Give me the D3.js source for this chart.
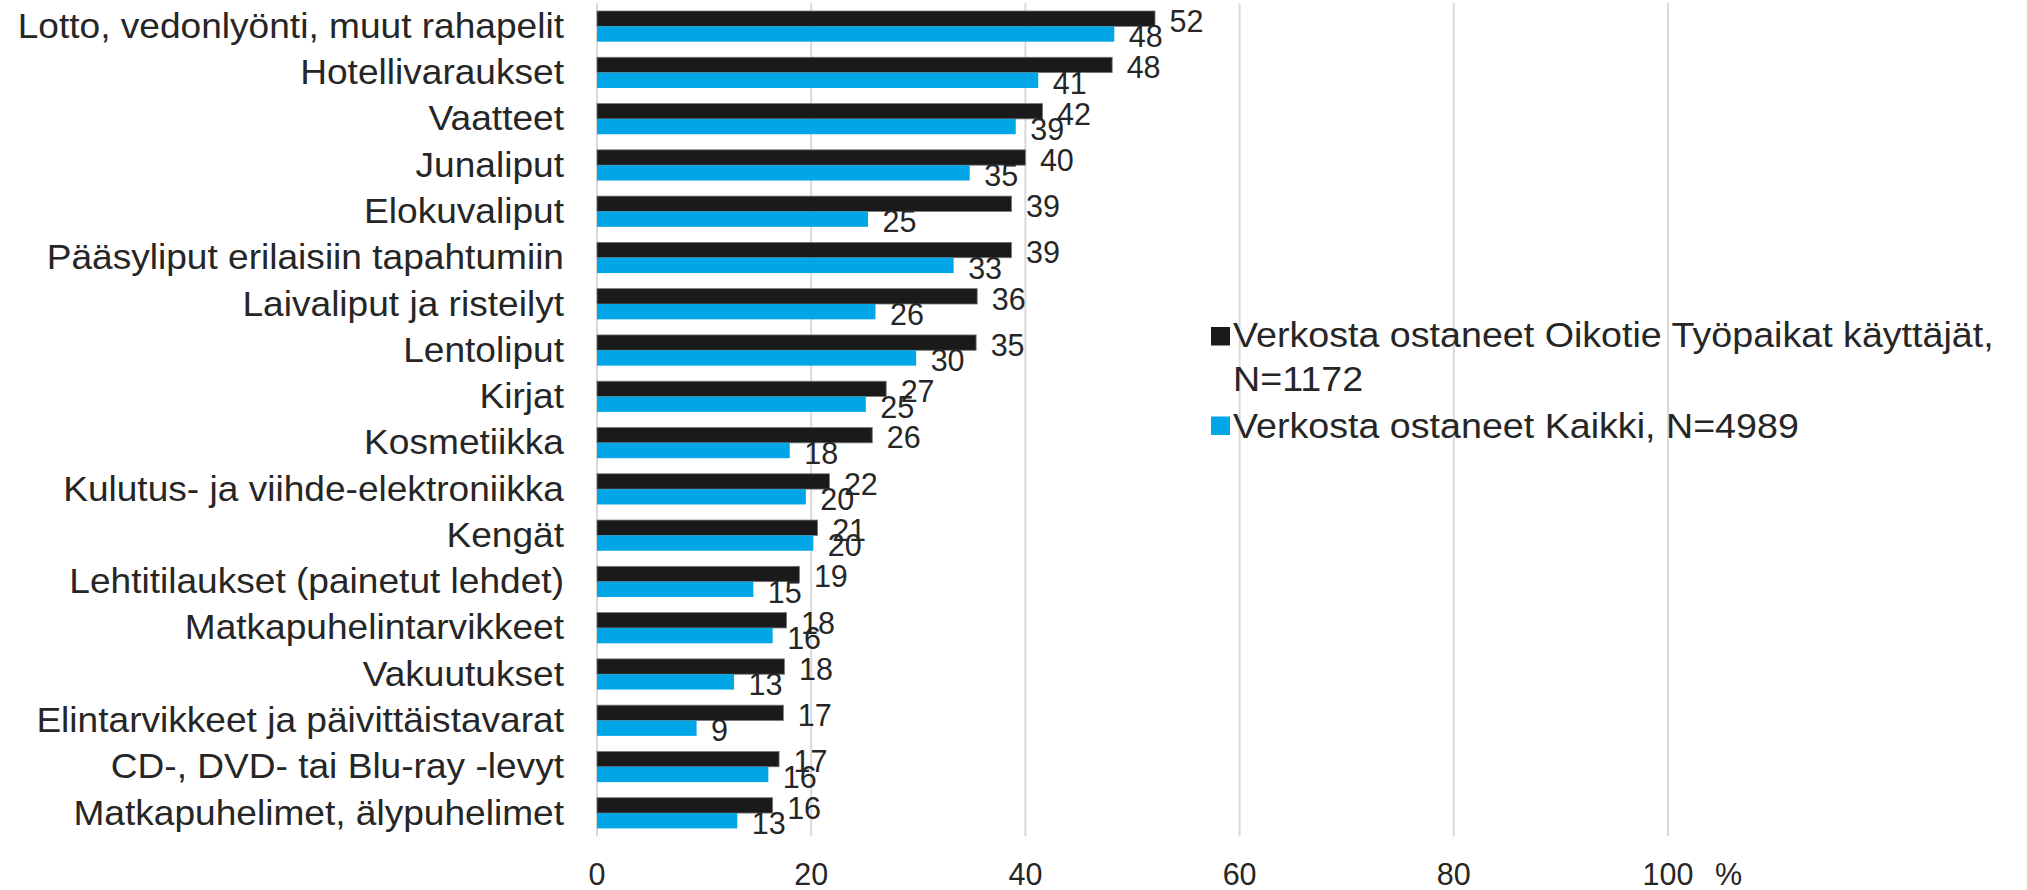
<!DOCTYPE html>
<html>
<head>
<meta charset="utf-8">
<script src="https://cdn.jsdelivr.net/npm/d3@7.9.0/dist/d3.min.js"></script>
<style>
  body { margin: 0; background: #fff; }
  svg { display: block; font-family: "Liberation Sans", Arial, sans-serif; }
</style>
</head>
<body>
<div id="chart"></div>
<script>
// categories top to bottom
const categories = [
  'Lotto, vedonlyönti, muut rahapelit',
  'Hotellivaraukset',
  'Vaatteet',
  'Junaliput',
  'Elokuvaliput',
  'Pääsyliput erilaisiin tapahtumiin',
  'Laivaliput ja risteilyt',
  'Lentoliput',
  'Kirjat',
  'Kosmetiikka',
  'Kulutus- ja viihde-elektroniikka',
  'Kengät',
  'Lehtitilaukset (painetut lehdet)',
  'Matkapuhelintarvikkeet',
  'Vakuutukset',
  'Elintarvikkeet ja päivittäistavarat',
  'CD-, DVD- tai Blu-ray -levyt',
  'Matkapuhelimet, älypuhelimet'
];

// % values
const oikotie = [52.1, 48.1, 41.6, 40.0, 38.7, 38.7, 35.5, 35.4, 27.0, 25.7, 21.7, 20.6, 18.9, 17.7, 17.5, 17.4, 17.0, 16.4];
const kaikki  = [48.3, 41.2, 39.1, 34.8, 25.3, 33.3, 26.0, 29.8, 25.1, 18.0, 19.5, 20.2, 14.6, 16.4, 12.8, 9.3, 16.0, 13.1];

const seriesNames = [
  ['Verkosta ostaneet Oikotie Työpaikat käyttäjät,', 'N=1172'],
  ['Verkosta ostaneet Kaikki, N=4989']
];
const xTicks = [0, 20, 40, 60, 80, 100];

const colors = ['#1a1a1a', '#00a6e6'];
const textColor = '#262626';
const stretch = 1.06; // reference text is a bit wider than Liberation Sans

const width = 2027;
const height = 890;

const svg = d3.select('#chart')
  .append('svg')
  .attr('width', width)
  .attr('height', height);

const xScale = d3.scaleLinear().domain([0, 100]).range([597, 1668]);

const yScale = d3.scaleBand()
  .domain(categories)
  .range([3.2, 836.2])
  .paddingInner(0.337)
  .paddingOuter(0.1685);

const sub = d3.scaleBand()
  .domain([0, 1])
  .range([0, yScale.bandwidth()]);

// gridlines (incl. zero line)
svg.append('g')
  .selectAll('line')
  .data(xTicks)
  .join('line')
    .attr('x1', d => xScale(d))
    .attr('x2', d => xScale(d))
    .attr('y1', 3.2)
    .attr('y2', 836.2)
    .attr('stroke', '#d9d9d9')
    .attr('stroke-width', 2);

// axis labels
svg.append('g')
  .selectAll('text')
  .data(xTicks)
  .join('text')
    .attr('x', d => xScale(d))
    .attr('y', 885)
    .attr('text-anchor', 'middle')
    .attr('font-size', 30.5)
    .attr('fill', textColor)
    .text(d => d);

svg.append('text')
  .attr('x', xScale(100) + 47)
  .attr('y', 885)
  .attr('font-size', 30.5)
  .attr('fill', textColor)
  .text('%');

// category labels
svg.append('g')
  .selectAll('text')
  .data(categories)
  .join('text')
    .attr('transform', d => `translate(564, ${yScale(d) + yScale.bandwidth() / 2 + 11.5}) scale(${stretch}, 1)`)
    .attr('text-anchor', 'end')
    .attr('font-size', 35)
    .attr('fill', textColor)
    .text(d => d);

const rows = categories.map((c, i) => ({ cat: c, vals: [oikotie[i], kaikki[i]] }));

const groups = svg.append('g')
  .selectAll('g')
  .data(rows)
  .join('g')
    .attr('transform', d => `translate(0, ${yScale(d.cat)})`);

groups.selectAll('rect')
  .data(d => d.vals.map((v, s) => ({ v, s })))
  .join('rect')
    .attr('x', xScale(0))
    .attr('y', d => sub(d.s))
    .attr('width', d => xScale(d.v) - xScale(0))
    .attr('height', sub.bandwidth())
    .attr('fill', d => colors[d.s])
    .attr('stroke', d => d.s === 0 ? '#777' : 'none')
    .attr('stroke-width', 0.8);

groups.selectAll('text')
  .data(d => d.vals.map((v, s) => ({ v, s })))
  .join('text')
    .attr('x', d => xScale(d.v) + 14.5)
    .attr('y', d => sub(d.s) + sub.bandwidth() / 2 + 2.5)
    .attr('dy', '0.355em')
    .attr('font-size', 30.5)
    .attr('fill', textColor)
    .text(d => d3.format('.0f')(d.v));

// legend
const legend = svg.append('g');
const legendRows = [
  { s: 0, y: 346.7, sq: 327 },
  { s: 1, y: 438.3, sq: 416.5 }
];
legendRows.forEach(r => {
  legend.append('rect')
    .attr('x', 1211)
    .attr('y', r.sq)
    .attr('width', 19)
    .attr('height', 18.5)
    .attr('fill', colors[r.s]);
  const t = legend.append('text')
    .attr('transform', `translate(1233, ${r.y}) scale(${stretch}, 1)`)
    .attr('font-size', 35.5)
    .attr('fill', textColor);
  seriesNames[r.s].forEach((line, i) => {
    t.append('tspan')
      .attr('x', 0)
      .attr('dy', i === 0 ? 0 : 44.3)
      .text(line);
  });
});
</script>
</body>
</html>
